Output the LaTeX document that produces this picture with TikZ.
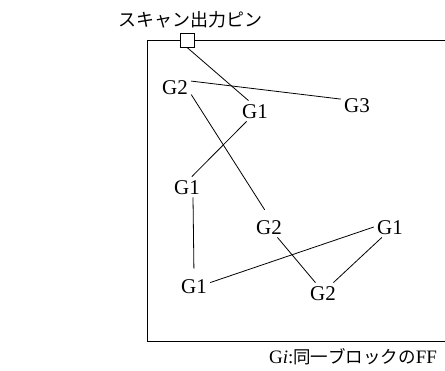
\documentclass[tikz,border=0pt]{standalone}
\usepackage{fontspec}
\setmainfont{Liberation Serif}
\newfontfamily\jpfont{Noto Sans CJK JP}
\usetikzlibrary{positioning}

\begin{document}
\begin{tikzpicture}[
  x=1pt, y=-1pt, line width=0.8pt,
  gnode/.style={inner sep=3pt, text height=14pt, text depth=0pt, font=\fontsize{21}{21}\selectfont},
  pinbox/.style={draw, fill=white, minimum size=14pt, inner sep=0pt}
]
\useasboundingbox (0,0) rectangle (445,370);

% chip outline (right side runs off the picture)
\draw[line width=1pt] (447,40) -- (147,40) -- (147,341) -- (447,341);

\node[font=\jpfont\fontsize{18}{18}\selectfont] (title) at (190,20) {スキャン出力ピン};
\node[pinbox] (pin) at (187,40) {};

\node[gnode] (G2a) at (175,87) {G2};
\node[gnode] (G1a) at (255,111) {G1};
\node[gnode] (G3) at (357,105) {G3};
\node[gnode] (G1b) at (187,187) {G1};
\node[gnode] (G2b) at (269,227) {G2};
\node[gnode] (G1c) at (390,227) {G1};
\node[gnode] (G1d) at (194,286) {G1};
\node[gnode] (G2c) at (323,293) {G2};

\draw (pin.south) -- (G1a.122);
\draw (G2a.20) -- (G3.160);
\draw[shorten >=8pt] (G2a.-25) -- (G2b.north);
\draw (G1a.231) -- (G1b.65);
\draw[shorten >=7pt] (G1b.300) -- (G1d.north);
\draw (G1d.12) -- (G1c.west);
\draw (G2b.-51) -- (G2c.126);
\draw (G1c.232) -- (G2c.45);

\node[font=\fontsize{19}{19}\selectfont] (legend) at (353,357)
  {G\textit{i}:{\jpfont\fontsize{17.5}{17.5}\selectfont 同一ブロックの}FF};
\end{tikzpicture}
\end{document}
